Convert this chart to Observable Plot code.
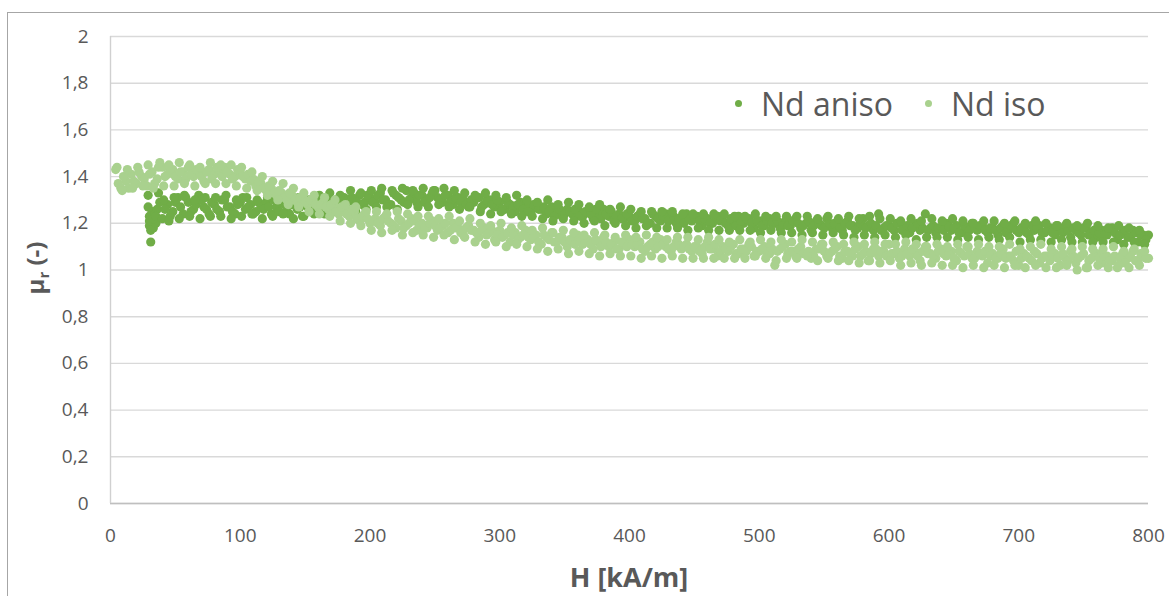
<!DOCTYPE html>
<html>
<head>
<meta charset="utf-8">
<script src="https://cdn.jsdelivr.net/npm/d3@7"></script>
<script src="https://cdn.jsdelivr.net/npm/@observablehq/plot@0.6"></script>
<style>
  html, body { margin: 0; padding: 0; background: #fff; }
  #wrap { position: relative; width: 1169px; height: 596px; overflow: hidden; font-family: "Open Sans", sans-serif; }
  #frame { position: absolute; left: 7px; top: 12px; width: 1200px; height: 640px; border: 1px solid #a6a6a6; box-sizing: border-box; }
  #chart { position: absolute; left: 0; top: 0; }
  .ttl { position: absolute; color: #595959; font-weight: 700; white-space: nowrap; line-height: 1; }
  .leg { position: absolute; color: #595959; font-size: 32px; white-space: nowrap; line-height: 1; }
  .legdot { position: absolute; width: 7px; height: 7px; border-radius: 50%; }
</style>
</head>
<body>
<div id="wrap">
  <div id="frame"></div>
  <div id="chart"></div>
  <div class="ttl" id="xt" style="left:629px; top:563px; font-size:27px; transform:translateX(-50%);">H [kA/m]</div>
  <div class="ttl" id="yt" style="left:37px; top:268px; font-size:24px; transform:translate(-50%,-50%) rotate(-90deg);">μ<sub style="font-size:15px;">r</sub> (-)</div>
  <div class="legdot" style="left:735px; top:100px; background:#70AD47;"></div>
  <div class="leg" style="left:761px; top:88px;">Nd aniso</div>
  <div class="legdot" style="left:925px; top:100px; background:#A9D18E;"></div>
  <div class="leg" style="left:951px; top:88px;">Nd iso</div>
</div>
<script>
// ---- data ----
const xTicks = [0, 100, 200, 300, 400, 500, 600, 700, 800];
const yTicks = [0, 0.2, 0.4, 0.6, 0.8, 1, 1.2, 1.4, 1.6, 1.8, 2];

const seriesNames = ["Nd aniso", "Nd iso"];
const seriesColors = ["#70AD47", "#A9D18E"];

// Nd aniso: initial cluster near H ≈ 30 kA/m
const anisoStartH = [29, 29, 30, 30, 31, 31, 32, 32, 33, 34, 35, 36, 37, 38, 30, 33, 35];
const anisoStartMu = [1.32, 1.27, 1.23, 1.19, 1.17, 1.12, 1.25, 1.21, 1.18, 1.24, 1.20, 1.26, 1.33, 1.29, 1.21, 1.22, 1.23];

// Nd aniso, sweep A: H from 40 to 800 in steps of 4 kA/m
const anisoStep = 4;
const anisoH0 = 40;
const anisoMu = [
  1.22,1.28,1.25,1.31,1.24,1.29,1.26,1.32,1.27,1.24,
  1.28,1.25,1.30,1.27,1.24,1.29,1.26,1.28,1.25,1.27,
  1.29,1.24,1.27,1.30,1.25,1.28,1.26,1.23,1.27,1.29,
  1.26,1.28,1.30,1.27,1.29,1.31,1.28,1.30,1.32,1.29,
  1.31,1.29,1.33,1.30,1.28,1.32,1.30,1.34,1.31,1.29,
  1.32,1.30,1.33,1.31,1.29,1.32,1.28,1.31,1.30,1.27,
  1.29,1.31,1.28,1.30,1.27,1.29,1.26,1.28,1.25,1.29,
  1.27,1.25,1.28,1.26,1.24,1.27,1.25,1.23,1.26,1.24,
  1.26,1.23,1.25,1.22,1.24,1.26,1.23,1.21,1.24,1.22,
  1.23,1.21,1.24,1.22,1.20,1.23,1.21,1.24,1.22,1.20,
  1.22,1.24,1.21,1.23,1.19,1.22,1.20,1.23,1.21,1.19,
  1.21,1.23,1.20,1.22,1.18,1.21,1.19,1.22,1.20,1.18,
  1.21,1.19,1.22,1.18,1.20,1.17,1.21,1.19,1.22,1.18,
  1.20,1.17,1.21,1.19,1.18,1.22,1.19,1.17,1.24,1.18,
  1.19,1.17,1.20,1.18,1.16,1.19,1.17,1.24,1.18,1.16,
  1.18,1.20,1.17,1.19,1.16,1.18,1.20,1.17,1.19,1.16,
  1.18,1.15,1.19,1.17,1.20,1.16,1.18,1.15,1.17,1.19,
  1.16,1.18,1.15,1.17,1.19,1.14,1.17,1.15,1.18,1.16,
  1.14,1.17,1.15,1.18,1.13,1.16,1.14,1.17,1.12,1.15,
  1.15
];

// Nd aniso, sweep B: H from 42 to 798 in steps of 4 kA/m
const anisoH0b = 42;
const anisoMuB = [
  1.26,1.23,1.29,1.27,1.31,1.25,1.28,1.30,1.26,1.29,
  1.26,1.30,1.27,1.25,1.28,1.31,1.27,1.24,1.29,1.26,
  1.27,1.30,1.25,1.28,1.24,1.30,1.27,1.29,1.25,1.27,
  1.29,1.27,1.26,1.30,1.28,1.27,1.31,1.29,1.28,1.32,
  1.29,1.32,1.30,1.28,1.33,1.31,1.29,1.30,1.33,1.32,
  1.29,1.31,1.34,1.30,1.32,1.29,1.31,1.29,1.28,1.30,
  1.31,1.27,1.30,1.28,1.30,1.26,1.29,1.27,1.28,1.26,
  1.25,1.28,1.26,1.27,1.25,1.23,1.26,1.24,1.25,1.26,
  1.23,1.25,1.24,1.26,1.22,1.24,1.25,1.23,1.22,1.24,
  1.21,1.23,1.22,1.20,1.24,1.22,1.23,1.21,1.23,1.22,
  1.20,1.22,1.23,1.21,1.22,1.20,1.23,1.21,1.20,1.22,
  1.19,1.21,1.22,1.20,1.21,1.19,1.21,1.20,1.21,1.19,
  1.19,1.21,1.20,1.19,1.21,1.19,1.20,1.18,1.20,1.20,
  1.18,1.20,1.19,1.17,1.20,1.18,1.20,1.19,1.17,1.19,
  1.18,1.20,1.17,1.19,1.18,1.20,1.18,1.17,1.19,1.18,
  1.17,1.19,1.18,1.16,1.19,1.17,1.18,1.19,1.17,1.18,
  1.17,1.18,1.16,1.19,1.17,1.18,1.16,1.19,1.18,1.16,
  1.17,1.16,1.19,1.16,1.17,1.18,1.16,1.18,1.15,1.17,
  1.16,1.15,1.17,1.16,1.15,1.17,1.14,1.16,1.15,1.13
];

// Nd aniso, sweep C: H from 41 to 797 in steps of 4 kA/m
const anisoH0c = 41;
const anisoMuC = [
  1.30,1.21,1.31,1.22,1.32,1.23,1.30,1.22,1.31,1.23,
  1.31,1.23,1.32,1.22,1.30,1.23,1.31,1.24,1.30,1.22,
  1.31,1.23,1.30,1.24,1.32,1.22,1.31,1.23,1.30,1.24,
  1.32,1.24,1.33,1.25,1.32,1.26,1.34,1.25,1.33,1.26,
  1.34,1.27,1.35,1.27,1.34,1.26,1.35,1.28,1.34,1.27,
  1.35,1.27,1.34,1.28,1.35,1.27,1.34,1.26,1.33,1.27,
  1.32,1.25,1.33,1.24,1.32,1.25,1.31,1.24,1.32,1.23,
  1.30,1.23,1.29,1.22,1.30,1.21,1.28,1.22,1.29,1.21,
  1.28,1.20,1.27,1.21,1.28,1.19,1.26,1.20,1.27,1.19,
  1.26,1.18,1.25,1.19,1.25,1.18,1.25,1.18,1.25,1.18,
  1.24,1.17,1.24,1.18,1.24,1.17,1.24,1.17,1.24,1.17,
  1.23,1.17,1.23,1.17,1.24,1.16,1.23,1.17,1.23,1.16,
  1.23,1.16,1.23,1.15,1.23,1.16,1.22,1.15,1.23,1.16,
  1.22,1.15,1.23,1.14,1.22,1.15,1.23,1.14,1.22,1.15,
  1.22,1.14,1.21,1.15,1.22,1.13,1.21,1.14,1.22,1.14,
  1.21,1.14,1.22,1.13,1.21,1.14,1.20,1.13,1.21,1.14,
  1.21,1.13,1.20,1.14,1.21,1.12,1.20,1.13,1.21,1.13,
  1.20,1.12,1.19,1.13,1.20,1.12,1.19,1.12,1.20,1.12,
  1.19,1.12,1.18,1.12,1.19,1.11,1.18,1.12,1.17,1.11
];

// Nd iso, sweep A: H from 4 to 800 in steps of 4 kA/m
const isoStep = 4;
const isoH0 = 4;
const isoMu = [
  1.43,1.35,1.38,1.41,1.37,1.40,1.36,1.42,1.39,1.44,
  1.41,1.43,1.39,1.42,1.44,1.40,1.42,1.38,1.43,1.41,
  1.42,1.44,1.41,1.40,1.42,1.39,1.38,1.36,1.37,1.34,
  1.35,1.32,1.33,1.30,1.32,1.29,1.31,1.28,1.30,1.27,
  1.29,1.26,1.28,1.24,1.26,1.23,1.25,1.21,1.24,1.20,
  1.22,1.19,1.23,1.20,1.18,1.21,1.19,1.22,1.17,1.20,
  1.18,1.21,1.17,1.19,1.16,1.20,1.18,1.15,1.19,1.17,
  1.14,1.18,1.16,1.13,1.17,1.15,1.12,1.16,1.14,1.17,
  1.13,1.15,1.11,1.14,1.16,1.12,1.14,1.10,1.13,1.15,
  1.11,1.13,1.09,1.12,1.14,1.10,1.12,1.09,1.11,1.13,
  1.10,1.12,1.08,1.11,1.09,1.13,1.10,1.08,1.12,1.09,
  1.11,1.08,1.10,1.07,1.12,1.09,1.06,1.10,1.08,1.11,
  1.07,1.09,1.11,1.06,1.08,1.10,1.07,1.02,1.09,1.11,
  1.08,1.06,1.10,1.07,1.05,1.09,1.11,1.06,1.08,1.10,
  1.05,1.08,1.06,1.10,1.07,1.04,1.09,1.06,1.08,1.11,
  1.07,1.05,1.09,1.06,1.08,1.04,1.10,1.07,1.05,1.09,
  1.06,1.08,1.04,1.07,1.10,1.05,1.08,1.06,1.03,1.07,
  1.05,1.09,1.06,1.04,1.02,1.07,1.05,1.08,1.03,1.06,
  1.04,1.07,1.02,1.05,1.08,1.03,1.06,1.01,1.05,1.07,
  1.03,1.06,1.04,1.01,1.07,1.05,1.08,1.04,1.06,1.05
];

// Nd iso, sweep B: H from 6 to 798 in steps of 4 kA/m
const isoH0b = 6;
const isoMuB = [
  1.37,1.40,1.35,1.38,1.42,1.39,1.41,1.37,1.46,1.40,
  1.43,1.40,1.42,1.39,1.41,1.43,1.40,1.42,1.39,1.44,
  1.40,1.42,1.39,1.43,1.40,1.41,1.39,1.38,1.35,1.36,
  1.33,1.34,1.31,1.33,1.30,1.31,1.29,1.30,1.28,1.28,
  1.27,1.28,1.25,1.27,1.24,1.26,1.22,1.23,1.22,1.21,
  1.20,1.22,1.21,1.19,1.22,1.18,1.20,1.21,1.19,1.18,
  1.20,1.19,1.18,1.20,1.17,1.18,1.16,1.18,1.17,1.16,
  1.17,1.15,1.17,1.15,1.14,1.16,1.15,1.13,1.15,1.14,
  1.14,1.12,1.15,1.13,1.12,1.14,1.12,1.13,1.11,1.12,
  1.12,1.11,1.13,1.10,1.12,1.11,1.09,1.12,1.10,1.11,
  1.11,1.09,1.10,1.12,1.10,1.11,1.09,1.10,1.11,1.10,
  1.09,1.10,1.08,1.10,1.09,1.11,1.08,1.09,1.10,1.07,
  1.09,1.08,1.10,1.08,1.09,1.07,1.09,1.08,1.10,1.07,
  1.08,1.09,1.07,1.08,1.06,1.09,1.08,1.07,1.09,1.06,
  1.08,1.07,1.09,1.06,1.08,1.07,1.09,1.08,1.06,1.07,
  1.08,1.06,1.07,1.09,1.06,1.08,1.07,1.06,1.08,1.07,
  1.07,1.05,1.08,1.06,1.07,1.05,1.07,1.08,1.06,1.05,
  1.07,1.05,1.06,1.08,1.05,1.06,1.04,1.07,1.05,1.06,
  1.06,1.05,1.07,1.04,1.06,1.05,1.07,1.04,1.06,1.05,
  1.06,1.04,1.06,1.05,1.03,1.06,1.04,1.07,1.05
];

// Nd iso, sweep C: H from 5 to 797 in steps of 4 kA/m
const isoH0c = 5;
const isoMuC = [
  1.44,1.34,1.43,1.35,1.44,1.36,1.45,1.35,1.44,1.36,
  1.45,1.36,1.46,1.37,1.45,1.36,1.44,1.37,1.46,1.37,
  1.45,1.37,1.45,1.36,1.44,1.35,1.42,1.34,1.40,1.32,
  1.38,1.30,1.37,1.28,1.35,1.27,1.33,1.25,1.32,1.24,
  1.31,1.23,1.30,1.21,1.28,1.20,1.27,1.19,1.25,1.17,
  1.25,1.16,1.24,1.17,1.25,1.15,1.24,1.16,1.23,1.15,
  1.23,1.14,1.22,1.15,1.23,1.13,1.21,1.14,1.22,1.12,
  1.20,1.11,1.19,1.12,1.20,1.10,1.18,1.11,1.19,1.10,
  1.17,1.09,1.18,1.08,1.16,1.09,1.17,1.07,1.16,1.08,
  1.15,1.07,1.16,1.06,1.15,1.07,1.14,1.06,1.15,1.06,
  1.14,1.05,1.15,1.06,1.14,1.05,1.13,1.06,1.14,1.05,
  1.14,1.05,1.13,1.05,1.14,1.05,1.13,1.05,1.12,1.05,
  1.13,1.05,1.12,1.06,1.13,1.05,1.12,1.04,1.13,1.05,
  1.12,1.05,1.13,1.06,1.12,1.04,1.11,1.05,1.12,1.04,
  1.11,1.04,1.12,1.03,1.11,1.04,1.12,1.03,1.11,1.04,
  1.11,1.02,1.12,1.03,1.11,1.02,1.10,1.03,1.11,1.02,
  1.10,1.02,1.11,1.01,1.10,1.02,1.11,1.01,1.10,1.02,
  1.10,1.01,1.11,1.02,1.09,1.01,1.10,1.02,1.11,1.01,
  1.09,1.01,1.10,1.02,1.09,1.00,1.10,1.01,1.09,1.02,
  1.09,1.01,1.10,1.02,1.08,1.01,1.09,1.02,1.08
];

// ---- build table ----
const rows = [];
const add = (h0, vals, s) => vals.forEach((m, i) => rows.push({H: h0 + i * 4, mu: m, s}));
anisoStartH.forEach((h, i) => rows.push({H: h, mu: anisoStartMu[i], s: seriesNames[0]}));
add(anisoH0, anisoMu, seriesNames[0]);
add(anisoH0b, anisoMuB, seriesNames[0]);
add(anisoH0c, anisoMuC, seriesNames[0]);
add(isoH0, isoMu, seriesNames[1]);
add(isoH0b, isoMuB, seriesNames[1]);
add(isoH0c, isoMuC, seriesNames[1]);

const fmt = d => String(d).replace(".", ",");

const chart = Plot.plot({
  width: 1169,
  height: 596,
  marginLeft: 110,
  marginRight: 21,
  marginTop: 36,
  marginBottom: 93,
  style: {fontFamily: "Open Sans, sans-serif", fontSize: "19px", color: "#595959", background: "transparent", overflow: "visible"},
  x: {domain: [0, 800], label: null},
  y: {domain: [0, 2], label: null},
  color: {domain: seriesNames, range: seriesColors},
  marks: [
    Plot.gridY(yTicks, {stroke: "#d9d9d9", strokeOpacity: 1, strokeWidth: 1.4}),
    Plot.ruleY([0], {stroke: "#bfbfbf", strokeWidth: 1.6}),
    Plot.ruleX([0], {stroke: "#d0d0d0", strokeWidth: 1.4}),
    Plot.axisX(xTicks, {tickSize: 0, tickPadding: 25, tickFormat: d => String(d), label: null, fill: "#595959"}),
    Plot.axisY(yTicks, {tickSize: 0, tickPadding: 22, tickFormat: fmt, label: null, fill: "#595959"}),
    Plot.dot(rows.filter(r => r.s === seriesNames[0]), {x: "H", y: "mu", r: 4.6, fill: "s", stroke: null}),
    Plot.dot(rows.filter(r => r.s === seriesNames[1]), {x: "H", y: "mu", r: 4.6, fill: "s", stroke: null})
  ]
});
document.getElementById("chart").appendChild(chart);
</script>
</body>
</html>
